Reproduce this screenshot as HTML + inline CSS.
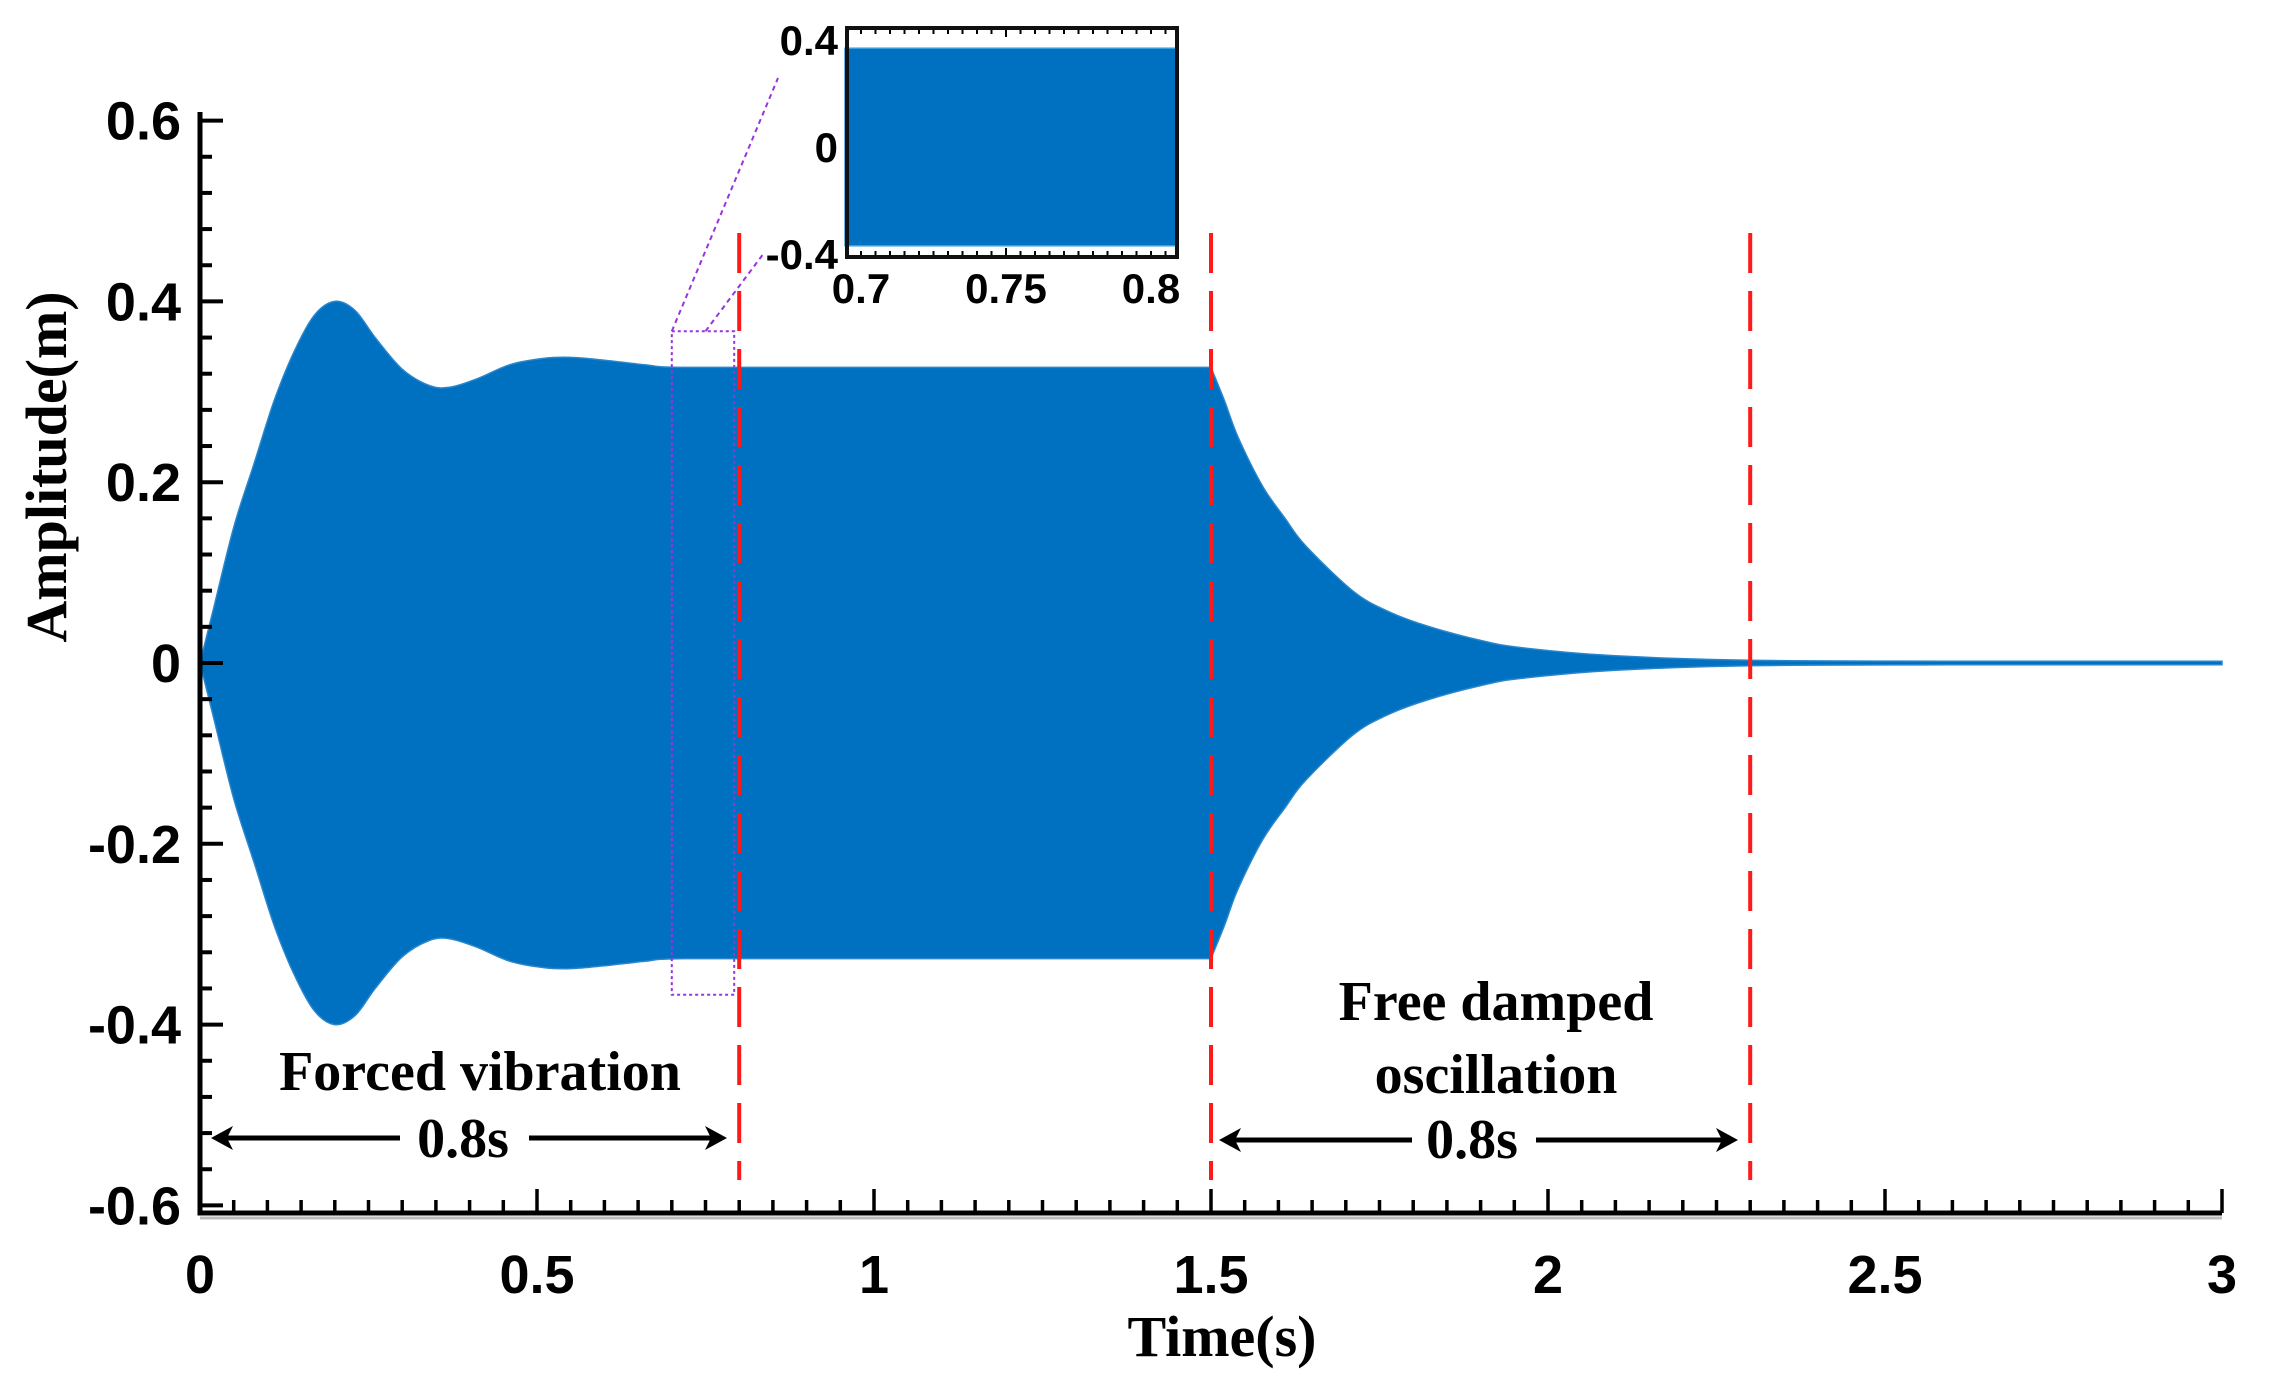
<!DOCTYPE html>
<html><head><meta charset="utf-8"><style>
html,body{margin:0;padding:0;background:#fff;}
svg{display:block;}
.tk{font-family:"Liberation Sans",Arial,sans-serif;font-weight:bold;fill:#000;}
.sr{font-family:"Liberation Serif","Times New Roman",serif;font-weight:bold;fill:#000;}
</style></head><body>
<svg id="chart" width="2285" height="1394" viewBox="0 0 2285 1394" xmlns="http://www.w3.org/2000/svg">
<g id="plot"></g>
</svg>
<script>
// ---- data ----
const envTimes = [0,0.02,0.05,0.08,0.11,0.14,0.17,0.2,0.23,0.26,0.3,0.34,0.37,0.41,0.46,0.51,0.55,0.6,0.66,0.72,1.0,1.5,1.52,1.54,1.577,1.61,1.64,1.71,1.76,1.82,1.9,1.96,2.1,2.3,2.6,3.0];
const envAmps  = [0,0.06,0.15,0.22,0.29,0.345,0.385,0.40,0.39,0.36,0.325,0.307,0.305,0.314,0.33,0.337,0.338,0.335,0.330,0.327,0.327,0.327,0.29,0.25,0.195,0.16,0.13,0.08,0.058,0.041,0.025,0.017,0.008,0.003,0.002,0.002];
const breakTime = 1.5;
const xTickLabels = ["0","0.5","1","1.5","2","2.5","3"];
const xTickValues = [0,0.5,1,1.5,2,2.5,3];
const yTickLabels = ["0.6","0.4","0.2","0","-0.2","-0.4","-0.6"];
const yTickValues = [0.6,0.4,0.2,0,-0.2,-0.4,-0.6];
const markerTimes = [0.8,1.5,2.3];
const insetTimes = [0.7,0.8];
const insetAmps = [0.37,0.37];
const insetXLabels = ["0.7","0.75","0.8"];
const insetXValues = [0.7,0.75,0.8];
const insetYLabels = ["0.4","0","-0.4"];
const insetYValues = [0.4,0,-0.4];

const NS="http://www.w3.org/2000/svg";
const g=document.getElementById('plot');
function X(t){return 200+t*674;}
function Y(v){return 663-v*904;}
function IX(t){return 861+(t-0.7)*2900;}
function IY(v){return 147-v*267;}
function mk(tag,attrs,parent){const e=document.createElementNS(NS,tag);for(const k in attrs)e.setAttribute(k,attrs[k]);(parent||g).appendChild(e);return e;}

function smooth(pts){
  let s='';
  for(let i=0;i<pts.length-1;i++){
    const p0=pts[Math.max(0,i-1)],p1=pts[i],p2=pts[i+1],p3=pts[Math.min(pts.length-1,i+2)];
    const c1x=p1[0]+(p2[0]-p0[0])/6,c1y=p1[1]+(p2[1]-p0[1])/6;
    const c2x=p2[0]-(p3[0]-p1[0])/6,c2y=p2[1]-(p3[1]-p1[1])/6;
    s+=` C${c1x.toFixed(1)},${c1y.toFixed(1)} ${c2x.toFixed(1)},${c2y.toFixed(1)} ${p2[0].toFixed(1)},${p2[1].toFixed(1)}`;
  }
  return s;
}
const bi=envTimes.indexOf(breakTime);
function side(sign){
  const pts=envTimes.map((t,i)=>[X(t),Y(sign*envAmps[i])]);
  return [pts.slice(0,bi+1),pts.slice(bi)];
}
const [uA,uB]=side(1);
const [dA,dB]=side(-1);
let d='M'+uA[0][0]+','+uA[0][1]+smooth(uA)+smooth(uB);
const dBr=dB.slice().reverse(), dAr=dA.slice().reverse();
d+=' L'+dBr[0][0]+','+dBr[0][1]+smooth(dBr)+smooth(dAr)+'Z';
const env=mk('path',{d:d,fill:'#0070c0',stroke:'#2a86cc','stroke-width':1.5});



// purple zoom box
const zb=mk('rect',{x:X(0.7),y:Y(0.367),width:X(0.8)-X(0.7)-5,height:Y(-0.367)-Y(0.367),fill:'none',stroke:'#9933dd','stroke-width':2,'stroke-dasharray':'3,3'});


const c1=mk('line',{x1:X(0.7),y1:Y(0.367),x2:778,y2:78,stroke:'#9933dd','stroke-width':2,'stroke-dasharray':'5,4'});


const c2=mk('line',{x1:X(0.75),y1:Y(0.367),x2:764,y2:253,stroke:'#9933dd','stroke-width':2,'stroke-dasharray':'5,4'});



markerTimes.forEach(t=>{
  const l=mk('line',{x1:X(t),y1:233,x2:X(t),y2:1180,stroke:'#ff1a1a','stroke-width':4,'stroke-dasharray':'40,18'});
  
  
});

const ax=mk('path',{d:`M200,112 L200,1213 L${X(3)},1213`,fill:'none',stroke:'#000','stroke-width':5});


mk('line',{x1:200,y1:1218,x2:X(3),y2:1218,stroke:'#bbb','stroke-width':3});
for(let i=0;i<=30;i++){const v=0.6-i*0.04;const major=i%5===0;
  mk('line',{x1:200,y1:Y(v),x2:200+(major?23:12),y2:Y(v),stroke:'#000','stroke-width':4});}
for(let i=0;i<=60;i++){const t=i*0.05;const major=i%10===0;
  mk('line',{x1:X(t),y1:1213,x2:X(t),y2:1213-(major?24:13),stroke:'#000','stroke-width':3.5});}
yTickLabels.forEach((s,i)=>{
  const tx=mk('text',{x:181,y:Y(yTickValues[i])+19,'text-anchor':'end','font-size':54,class:'tk'});tx.textContent=s;
  
  
});
xTickLabels.forEach((s,i)=>{
  const tx=mk('text',{x:X(xTickValues[i]),y:1293,'text-anchor':'middle','font-size':54,class:'tk'});tx.textContent=s;
  
  
});
const yt=mk('text',{x:0,y:0,transform:'translate(66,467) rotate(-90)','text-anchor':'middle','font-size':58,class:'sr'});yt.textContent='Amplitude(m)';


const xt=mk('text',{x:1222,y:1356,'text-anchor':'middle','font-size':58,class:'sr'});xt.textContent='Time(s)';



function arrow(x1,x2,y,gap1,gap2,name){
  mk('line',{x1:x1+14,y1:y,x2:gap1,y2:y,stroke:'#000','stroke-width':5});
  mk('line',{x1:gap2,y1:y,x2:x2-14,y2:y,stroke:'#000','stroke-width':5});
  const a1=mk('path',{d:`M${x1},${y} L${x1+22},${y-12} L${x1+16},${y} L${x1+22},${y+12}Z`,fill:'#000'});
  
  
  const a2=mk('path',{d:`M${x2},${y} L${x2-22},${y-12} L${x2-16},${y} L${x2-22},${y+12}Z`,fill:'#000'});
  
  
}
arrow(211,727,1138,400,529,'forced-arrow');
arrow(1219,1738,1140,1412,1536,'free-arrow');
function label(x,y,s,name){const t=mk('text',{x:x,y:y,'text-anchor':'middle','font-size':56,class:'sr'});t.textContent=s;
  
  }
label(480,1090,'Forced vibration','forced-vibration-label');
label(463,1157,'0.8s','forced-duration-label');
label(1496,1020,'Free damped','free-damped-label-line1');
label(1496,1093,'oscillation','free-damped-label-line2');
label(1472,1158,'0.8s','free-duration-label');

const ig=mk('g',{});


mk('rect',{x:847,y:28,width:330,height:229,fill:'#fff'},ig);
const ifill=mk('rect',{x:845,y:IY(insetAmps[0]),width:332,height:IY(-insetAmps[1])-IY(insetAmps[0]),fill:'#0070c0',stroke:'#3aa0e0','stroke-width':1.5},ig);


for(let i=0;i<=22;i++){const t=0.695+i*0.005;const xx=IX(t);if(xx<850||xx>1174)continue;const mj=Math.abs(t-0.75)<1e-6;
  mk('line',{x1:xx,y1:30,x2:xx,y2:30+(mj?7:4),stroke:'#000','stroke-width':2},ig);
  mk('line',{x1:xx,y1:255,x2:xx,y2:255-(mj?7:4),stroke:'#000','stroke-width':2},ig);}
mk('rect',{x:847,y:28,width:330,height:229,fill:'none',stroke:'#111','stroke-width':4},ig);
insetXLabels.forEach((s,i)=>{const t=mk('text',{x:IX(insetXValues[i]),y:303,'text-anchor':'middle','font-size':42,class:'tk'},ig);t.textContent=s;
  
  });
insetYLabels.forEach((s,i)=>{const t=mk('text',{x:838,y:IY(insetYValues[i])+15,'text-anchor':'end','font-size':42,class:'tk'},ig);t.textContent=s;
  
  });
</script>
</body></html>
